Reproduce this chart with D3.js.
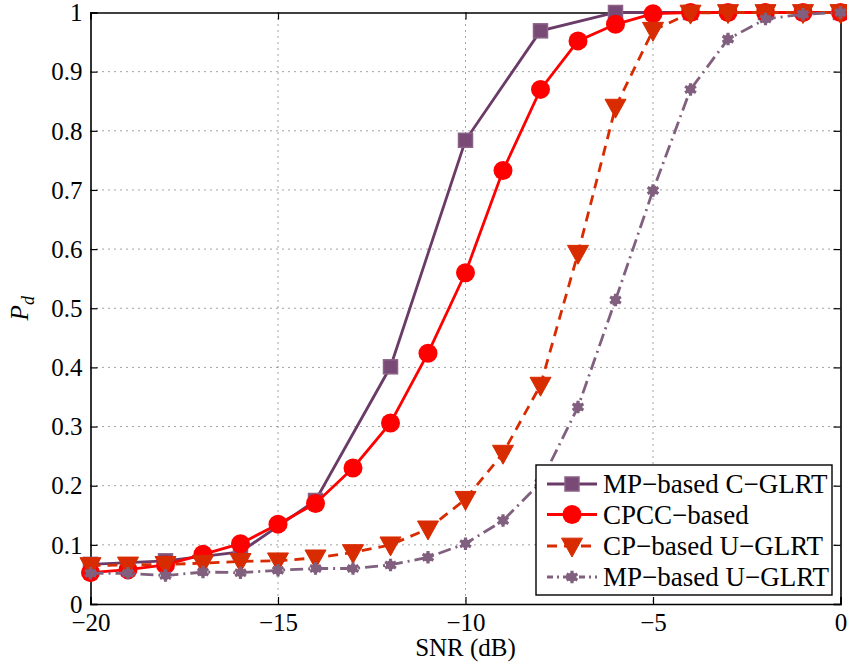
<!DOCTYPE html>
<html>
<head>
<meta charset="utf-8">
<script src="https://cdn.jsdelivr.net/npm/d3@7"></script>
<style>
  html, body { margin: 0; padding: 0; background: #fff; }
  svg { display: block; }
  svg text { font-family: "Liberation Serif", "Times New Roman", Times, serif; fill: #000; }
</style>
</head>
<body>
<svg id="chart" width="847" height="668"></svg>
<script>
// SNR grid (dB)
const snrFine = [-20,-19,-18,-17,-16,-15,-14,-13,-12,-11,-10,-9,-8,-7,-6,-5,-4,-3,-2,-1,0];
const snrCoarse = [-20,-18,-16,-14,-12,-10,-8,-6,-4,-2,0];

// Detection probability per detector
const mpCGlrt = [0.067,0.073,0.088,0.175,0.401,0.784,0.969,1.0,1.0,1.0,1.0];
const cpcc = [0.053,0.058,0.066,0.084,0.102,0.135,0.170,0.230,0.306,0.424,0.560,0.733,0.870,0.952,0.980,0.998,1.0,1.0,1.0,1.0,1.0];
const cpUGlrt = [0.065,0.066,0.067,0.069,0.072,0.073,0.078,0.087,0.100,0.127,0.177,0.255,0.370,0.593,0.840,0.970,0.999,1.0,1.0,1.0,1.0];
const mpUGlrt = [0.052,0.052,0.048,0.054,0.053,0.057,0.060,0.060,0.066,0.079,0.102,0.141,0.205,0.333,0.514,0.699,0.870,0.955,0.989,0.997,1.0];

const xTicks = [-20,-15,-10,-5,0];
const yTicks = [0,0.1,0.2,0.3,0.4,0.5,0.6,0.7,0.8,0.9,1];
const yTickLabels = ["0","0.1","0.2","0.3","0.4","0.5","0.6","0.7","0.8","0.9","1"];
const legendLabels = ["MP\u2212based C\u2212GLRT","CPCC\u2212based","CP\u2212based U\u2212GLRT","MP\u2212based U\u2212GLRT"];

const series = [
  { name: legendLabels[0], x: snrCoarse, y: mpCGlrt, color: "#6b3b68", marker: "square", dash: null },
  { name: legendLabels[1], x: snrFine, y: cpcc, color: "#ff0000", marker: "circle", dash: null },
  { name: legendLabels[2], x: snrFine, y: cpUGlrt, color: "#d92b00", marker: "triangle", dash: "10,7" },
  { name: legendLabels[3], x: snrFine, y: mpUGlrt, color: "#80607e", marker: "star", dash: "13,5,2,5" }
];

const FONT = '"Liberation Serif", "Times New Roman", Times, serif';
const svg = d3.select("#chart");
const m = { left: 90.5, top: 12.5, right: 840.5, bottom: 604 };
const x = d3.scaleLinear().domain([-20, 0]).range([m.left, m.right]);
const y = d3.scaleLinear().domain([0, 1]).range([m.bottom, m.top]);

// dotted grid
const grid = svg.append("g");
xTicks.slice(1, -1).forEach(v => {
  grid.append("line").attr("x1", x(v)).attr("x2", x(v)).attr("y1", m.top).attr("y2", m.bottom)
    .attr("stroke", "#444").attr("stroke-width", 1).attr("stroke-dasharray", "1,5");
});
yTicks.slice(1, -1).forEach(v => {
  grid.append("line").attr("x1", m.left).attr("x2", m.right).attr("y1", y(v)).attr("y2", y(v))
    .attr("stroke", "#444").attr("stroke-width", 1).attr("stroke-dasharray", "1,5");
});

// axes with inward ticks
const fmtY = (d, i) => yTickLabels[i];
const axB = svg.append("g").attr("transform", `translate(0,${m.bottom})`)
  .call(d3.axisBottom(x).tickValues(xTicks).tickSize(-7).tickPadding(6)
    .tickFormat(d => d < 0 ? "\u2212" + Math.abs(d) : d));
const axL = svg.append("g").attr("transform", `translate(${m.left},0)`)
  .call(d3.axisLeft(y).tickValues(yTicks).tickSize(-7).tickPadding(8).tickFormat(fmtY));
const axT = svg.append("g").attr("transform", `translate(0,${m.top})`)
  .call(d3.axisTop(x).tickValues(xTicks).tickSize(-7).tickFormat(""));
const axR = svg.append("g").attr("transform", `translate(${m.right},0)`)
  .call(d3.axisRight(y).tickValues(yTicks).tickSize(-7).tickFormat(""));
[axB, axL, axT, axR].forEach(a => {
  a.attr("font-family", FONT).attr("font-size", 25);
  a.select(".domain").attr("stroke", "#000").attr("stroke-width", 1.6);
  a.selectAll(".tick line").attr("stroke", "#000").attr("stroke-width", 1.2);
  a.selectAll("text").attr("fill", "#000");
});
axB.selectAll(".tick text").attr("dy", "0.85em");
axL.selectAll(".tick text").attr("dy", "0.33em");

// axis titles
svg.append("text").attr("x", x(-10)).attr("y", 656).attr("text-anchor", "middle")
  .attr("font-size", 25).text("SNR (dB)");
const yl = svg.append("text").attr("transform", `translate(28,${y(0.5)}) rotate(-90)`)
  .attr("text-anchor", "middle").attr("font-size", 25);
yl.append("tspan").attr("font-style", "italic").text("P");
yl.append("tspan").attr("font-style", "italic").attr("font-size", 18).attr("dy", 6).text("d");

// marker drawing
function drawMarker(g, type, cx, cy, color) {
  if (type === "square") {
    g.append("rect").attr("x", cx - 7).attr("y", cy - 7).attr("width", 14).attr("height", 14)
      .attr("fill", "#7a4a76").attr("stroke", "#8a6286").attr("stroke-width", 1.5);
  } else if (type === "circle") {
    g.append("circle").attr("cx", cx).attr("cy", cy).attr("r", 9.5).attr("fill", color);
  } else if (type === "triangle") {
    const s = 10.5;
    g.append("path").attr("d", `M${cx - s},${cy - s * 0.75}L${cx + s},${cy - s * 0.75}L${cx},${cy + s * 1.05}Z`)
      .attr("fill", color).attr("stroke", color).attr("stroke-width", 1);
  } else if (type === "star") {
    g.append("path").attr("transform", `translate(${cx},${cy})`)
      .attr("d", d3.symbol(d3.symbolAsterisk, 110)())
      .attr("stroke", color).attr("stroke-width", 3.2).attr("fill", "none");
    g.append("circle").attr("cx", cx).attr("cy", cy).attr("r", 4.5).attr("fill", color);
  }
}

// series lines + markers
const plot = svg.append("g");
series.forEach(s => {
  const pts = s.x.map((v, i) => [v, s.y[i]]);
  plot.append("path").datum(pts)
    .attr("d", d3.line().x(d => x(d[0])).y(d => y(d[1])))
    .attr("fill", "none").attr("stroke", s.color).attr("stroke-width", 2.8)
    .attr("stroke-dasharray", s.dash);
  const mg = plot.append("g");
  pts.forEach(d => drawMarker(mg, s.marker, x(d[0]), y(d[1]), s.color));
});

// legend
const lg = svg.append("g");
lg.append("rect").attr("x", 536).attr("y", 465).attr("width", 296).attr("height", 130)
  .attr("fill", "#fff").attr("stroke", "#000").attr("stroke-width", 1.4);
const rowY = [484, 514.5, 546, 577];
series.forEach((s, i) => {
  lg.append("line").attr("x1", 547).attr("x2", 597).attr("y1", rowY[i]).attr("y2", rowY[i])
    .attr("stroke", s.color).attr("stroke-width", 2.8)
    .attr("stroke-dasharray", s.dash ? (s.marker === "star" ? "6,4,2,4" : "10,7") : null);
  drawMarker(lg, s.marker, 572, rowY[i], s.color);
  lg.append("text").attr("x", 603).attr("y", rowY[i]).attr("dy", "0.35em")
    .attr("font-size", 27).text(s.name);
});
</script>
</body>
</html>
